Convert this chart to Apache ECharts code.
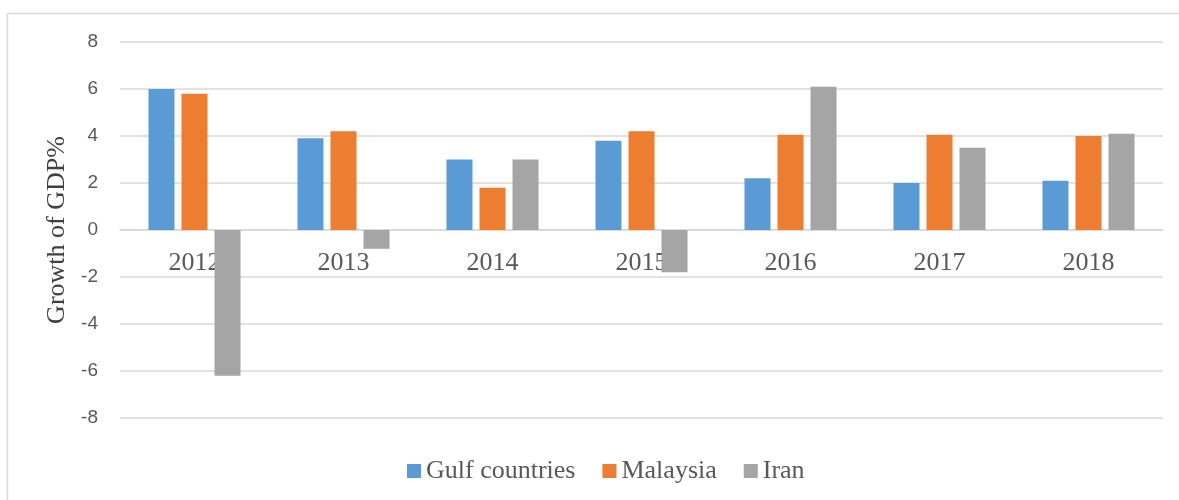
<!DOCTYPE html>
<html>
<head>
<meta charset="utf-8">
<script src="https://cdn.jsdelivr.net/npm/echarts@6/dist/echarts.min.js"></script>
<style>html,body{margin:0;padding:0;background:#fff;}#c{width:1179px;height:500px;}</style>
</head>
<body>
<div id="c"></div>
<script>
var categories = ['2012', '2013', '2014', '2015', '2016', '2017', '2018'];
var gulf = [6.0, 3.9, 3.0, 3.8, 2.2, 2.0, 2.1];
var malaysia = [5.8, 4.2, 1.8, 4.2, 4.05, 4.05, 4.0];
var iran = [-6.2, -0.8, 3.0, -1.8, 6.1, 3.5, 4.1];
var seriesNames = ['Gulf countries', 'Malaysia', 'Iran'];
var yTitle = 'Growth of GDP%';

var chart = echarts.init(document.getElementById('c'), null, {renderer: 'canvas'});
var serif = '"Liberation Serif", "Times New Roman", serif';
var sans = '"Liberation Sans", Arial, sans-serif';
chart.setOption({
  backgroundColor: '#ffffff',
  animation: false,
  color: ['#5B9BD5', '#ED7D31', '#A5A5A5'],
  graphic: [{
    type: 'rect', silent: true, z: -10,
    shape: {x: 7.5, y: 13.5, width: 1180, height: 500},
    style: {fill: 'none', stroke: '#D9D9D9', lineWidth: 1.5}
  }],
  grid: {left: 120, right: 16, top: 42, bottom: 82, containLabel: false},
  legend: {
    left: 402, top: 453,
    itemWidth: 14, itemHeight: 14, itemGap: 27,
    icon: 'rect',
    textStyle: {fontFamily: serif, fontSize: 26, color: '#595959'},
    data: seriesNames
  },
  xAxis: {
    type: 'category',
    data: categories,
    position: 'bottom',
    offset: -188,
    axisLine: {show: true, onZero: false, lineStyle: {color: '#D9D9D9', width: 1.5}},
    axisTick: {show: false},
    axisLabel: {fontFamily: serif, fontSize: 26, color: '#595959', margin: 20},
    splitLine: {show: false}
  },
  yAxis: {
    type: 'value',
    min: -8, max: 8, interval: 2,
    name: yTitle,
    nameLocation: 'middle',
    nameGap: 50,
    nameTextStyle: {fontFamily: serif, fontSize: 26, color: '#404040'},
    axisLine: {show: false},
    axisTick: {show: false},
    axisLabel: {fontFamily: sans, fontSize: 19, color: '#595959', margin: 22},
    splitLine: {lineStyle: {color: '#D9D9D9', width: 1.5}}
  },
  series: [
    {name: seriesNames[0], type: 'bar', data: gulf, barWidth: 26, barGap: '27%'},
    {name: seriesNames[1], type: 'bar', data: malaysia, barWidth: 26, barGap: '27%'},
    {name: seriesNames[2], type: 'bar', data: iran, barWidth: 26, barGap: '27%'}
  ]
});
</script>
</body>
</html>
